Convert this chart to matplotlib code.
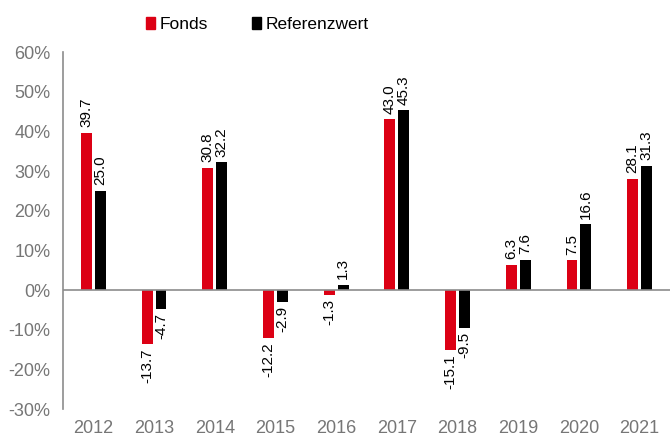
import numpy as np
import matplotlib.pyplot as plt
from matplotlib.patches import Patch

plt.rcParams['font.family'] = ['Liberation Sans', 'DejaVu Sans']

# ===================== DATA =====================
years = ["2012", "2013", "2014", "2015", "2016", "2017", "2018", "2019", "2020", "2021"]
fonds = [39.7, -13.7, 30.8, -12.2, -1.3, 43.0, -15.1, 6.3, 7.5, 28.1]
referenz = [25.0, -4.7, 32.2, -2.9, 1.3, 45.3, -9.5, 7.6, 16.6, 31.3]

RED = "#dc0014"
BLACK = "#000000"
GREY = "#767676"

fig = plt.figure(figsize=(6.7, 4.37), dpi=100)
ax = fig.add_axes([0.094, 0.064, 0.906, 0.817])

x = np.arange(len(years))
width = 0.18
offset = 0.115

bars1 = ax.bar(x - offset, fonds, width, color=RED)
bars2 = ax.bar(x + offset, referenz, width, color=BLACK)

# ===================== DATA LABELS =====================
for bars, vals in ((bars1, fonds), (bars2, referenz)):
    for b, v in zip(bars, vals):
        cx = b.get_x() + b.get_width() / 2
        ax.annotate(
            f"{v:.1f}",
            xy=(cx, v),
            xytext=(0, 4 if v >= 0 else -3),
            textcoords="offset points",
            rotation=90,
            ha="center",
            va="bottom" if v >= 0 else "top",
            fontsize=11,
            color="black",
        )

ax.set_xlim(-0.5, len(years) - 0.5)
ax.set_ylim(-30, 60)
ax.set_yticks(np.arange(-30, 61, 10))
ax.set_yticklabels([f"{t}%" for t in range(-30, 61, 10)])
ax.set_xticks(x)
ax.set_xticklabels(years)

ax.axhline(0, color="#8c8c8c", linewidth=1.2)

for s in ("top", "right", "bottom"):
    ax.spines[s].set_visible(False)
ax.spines["left"].set_color("#8c8c8c")
ax.spines["left"].set_linewidth(1.2)

ax.tick_params(axis="both", length=0, labelsize=13, colors=GREY)
ax.tick_params(axis="x", pad=8)
ax.tick_params(axis="y", pad=9)

# ===================== LEGEND =====================
handles = [Patch(color=RED, label="Fonds"), Patch(color=BLACK, label="Referenzwert")]
fig.legend(
    handles=handles,
    loc="center",
    bbox_to_anchor=(0.384, 0.943),
    ncol=2,
    frameon=False,
    fontsize=12.5,
    handlelength=0.55,
    handleheight=0.7,
    handletextpad=0.25,
    columnspacing=2.5,
)

plt.savefig("out.png", dpi=100)
